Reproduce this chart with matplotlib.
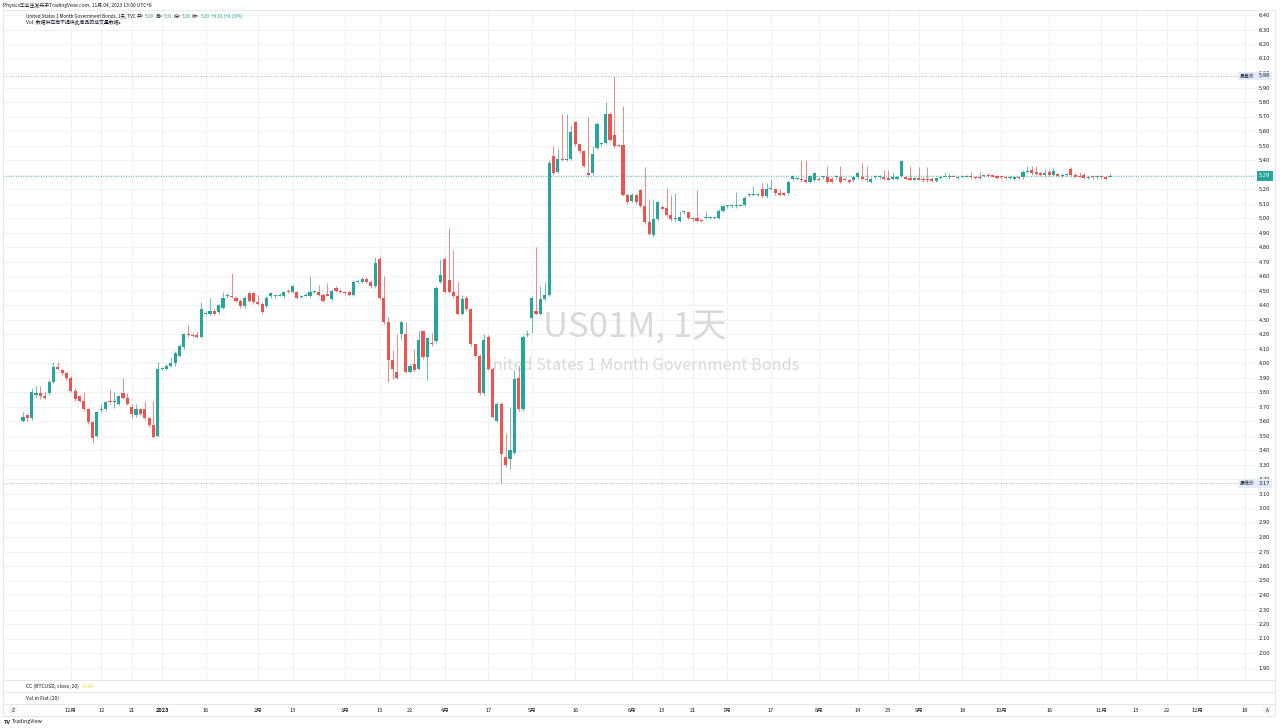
import matplotlib

matplotlib.use("Agg")
import matplotlib.pyplot as plt
import numpy as np
from matplotlib.lines import Line2D

plt.rcParams["font.family"] = ["Noto Sans CJK SC", "DejaVu Sans"]

W, H = 1280, 728
GREEN = "#26a69a"
RED = "#ef5350"
TEXT = "#131722"
BORDER = "#e0e3eb"
GRID = "#f0f2f5"

# daily candles, US01M, mid Nov 2022 -> 3 Nov 2023
OPEN = [
    3.60, 3.64, 3.62, 3.78, 3.79, 3.77, 3.79, 3.87, 3.97, 3.95,
    3.93, 3.90, 3.81, 3.77, 3.74, 3.68, 3.59, 3.50, 3.675, 3.68,
    3.74, 3.73, 3.72, 3.79, 3.76, 3.70, 3.64, 3.68, 3.68, 3.62,
    3.57, 3.50, 3.96, 3.96, 3.98, 4.00, 4.05, 4.11, 4.20, 4.19,
    4.19, 4.18, 4.34, 4.34, 4.36, 4.35, 4.38, 4.46, 4.465, 4.45,
    4.43, 4.39, 4.48, 4.48, 4.42, 4.41, 4.39, 4.46, 4.46, 4.465,
    4.46, 4.50, 4.49, 4.49, 4.455, 4.465, 4.46, 4.49, 4.49, 4.47,
    4.475, 4.44, 4.52, 4.50, 4.49, 4.49, 4.47, 4.56, 4.56, 4.58,
    4.56, 4.53, 4.72, 4.45, 4.28, 4.02, 3.94, 4.20, 4.20, 3.94,
    3.99, 3.96, 4.22, 4.04, 4.14, 4.15, 4.56, 4.72, 4.57, 4.49,
    4.46, 4.34, 4.45, 4.37, 4.13, 4.05, 3.79, 4.18, 3.96, 3.60,
    3.72, 3.35, 3.34, 3.38, 3.90, 3.68, 4.19, 4.31, 4.36, 4.34,
    4.44, 4.47, 5.43, 5.32, 5.41, 5.40, 5.41, 5.66, 5.51, 5.46,
    5.31, 5.31, 5.48, 5.51, 5.52, 5.72, 5.57, 5.50, 5.50, 5.16,
    5.12, 5.16, 5.19, 5.08, 4.97, 4.88, 4.99, 5.075, 5.07, 5.02,
    4.99, 4.98, 5.04, 5.04, 5.00, 5.00, 4.985, 5.00, 5.00, 5.00,
    5.00, 5.05, 5.08, 5.08, 5.08, 5.085, 5.09, 5.16, 5.16, 5.16,
    5.20, 5.15, 5.20, 5.20, 5.17, 5.17, 5.17, 5.27, 5.27, 5.27,
    5.26, 5.25, 5.26, 5.27, 5.28, 5.28, 5.27, 5.28, 5.28, 5.27,
    5.26, 5.26, 5.28, 5.28, 5.27, 5.25, 5.28, 5.28, 5.28, 5.275,
    5.27, 5.27, 5.29, 5.28, 5.275, 5.265, 5.275, 5.27, 5.27, 5.27,
    5.255, 5.275, 5.285, 5.28, 5.29, 5.275, 5.285, 5.285, 5.29, 5.285,
    5.285, 5.29, 5.30, 5.295, 5.29, 5.285, 5.285, 5.275, 5.27, 5.285,
    5.28, 5.315, 5.33, 5.32, 5.31, 5.30, 5.32, 5.30, 5.305, 5.29,
    5.295, 5.34, 5.30, 5.29, 5.30, 5.275, 5.285, 5.28, 5.29, 5.28,
    5.28,
]
HIGH = [
    3.66, 3.65, 3.83, 3.84, 3.84, 3.80, 3.88, 4.01, 4.01, 3.96,
    3.94, 3.91, 3.83, 3.78, 3.80, 3.69, 3.60, 3.67, 3.72, 3.74,
    3.82, 3.80, 3.78, 3.90, 3.79, 3.72, 3.72, 3.69, 3.74, 3.63,
    3.74, 4.01, 3.97, 3.99, 4.04, 4.08, 4.13, 4.21, 4.26, 4.21,
    4.22, 4.42, 4.36, 4.45, 4.37, 4.41, 4.49, 4.48, 4.62, 4.46,
    4.44, 4.46, 4.49, 4.49, 4.47, 4.42, 4.46, 4.49, 4.47, 4.48,
    4.50, 4.51, 4.54, 4.50, 4.47, 4.48, 4.60, 4.50, 4.54, 4.48,
    4.55, 4.51, 4.53, 4.51, 4.50, 4.50, 4.57, 4.57, 4.59, 4.59,
    4.57, 4.73, 4.73, 4.60, 4.32, 4.09, 4.20, 4.29, 4.28, 3.99,
    4.10, 4.22, 4.23, 4.18, 4.21, 4.53, 4.72, 4.73, 4.93, 4.78,
    4.56, 4.47, 4.46, 4.38, 4.14, 4.06, 4.20, 4.19, 3.97, 3.73,
    3.73, 3.52, 3.70, 3.95, 3.98, 4.19, 4.23, 4.46, 4.80, 4.53,
    4.56, 5.40, 5.50, 5.48, 5.72, 5.72, 5.64, 5.67, 5.52, 5.47,
    5.70, 5.50, 5.66, 5.52, 5.80, 5.73, 5.98, 5.51, 5.77, 5.17,
    5.17, 5.17, 5.20, 5.35, 5.13, 5.13, 5.12, 5.09, 5.21, 5.16,
    5.17, 5.05, 5.05, 5.05, 5.01, 5.19, 4.99, 5.05, 5.01, 5.01,
    5.06, 5.09, 5.09, 5.09, 5.18, 5.10, 5.15, 5.17, 5.22, 5.17,
    5.24, 5.24, 5.27, 5.21, 5.20, 5.18, 5.26, 5.30, 5.28, 5.40,
    5.40, 5.30, 5.32, 5.28, 5.29, 5.36, 5.28, 5.30, 5.36, 5.28,
    5.27, 5.29, 5.32, 5.38, 5.36, 5.28, 5.30, 5.30, 5.33, 5.33,
    5.32, 5.29, 5.40, 5.29, 5.36, 5.28, 5.35, 5.28, 5.35, 5.28,
    5.28, 5.29, 5.32, 5.31, 5.30, 5.29, 5.30, 5.30, 5.32, 5.29,
    5.32, 5.30, 5.31, 5.30, 5.30, 5.29, 5.29, 5.29, 5.29, 5.29,
    5.33, 5.36, 5.36, 5.36, 5.32, 5.34, 5.33, 5.35, 5.31, 5.31,
    5.31, 5.35, 5.31, 5.32, 5.31, 5.29, 5.29, 5.29, 5.30, 5.29,
    5.31,
]
LOW = [
    3.59, 3.60, 3.61, 3.76, 3.75, 3.75, 3.78, 3.86, 3.95, 3.92,
    3.88, 3.80, 3.74, 3.73, 3.67, 3.58, 3.45, 3.49, 3.66, 3.67,
    3.72, 3.69, 3.71, 3.75, 3.71, 3.62, 3.63, 3.64, 3.61, 3.56,
    3.48, 3.49, 3.95, 3.95, 3.97, 3.98, 4.04, 4.10, 4.18, 4.18,
    4.17, 4.17, 4.33, 4.33, 4.33, 4.34, 4.37, 4.45, 4.45, 4.42,
    4.38, 4.38, 4.42, 4.41, 4.40, 4.34, 4.38, 4.45, 4.45, 4.46,
    4.45, 4.48, 4.48, 4.44, 4.45, 4.46, 4.45, 4.48, 4.46, 4.42,
    4.46, 4.43, 4.49, 4.48, 4.47, 4.46, 4.46, 4.55, 4.55, 4.55,
    4.52, 4.52, 4.44, 4.27, 3.87, 3.89, 3.89, 4.16, 3.93, 3.93,
    3.94, 3.95, 4.03, 3.88, 4.12, 4.14, 4.55, 4.48, 4.48, 4.45,
    4.33, 4.33, 4.36, 4.12, 4.04, 3.78, 3.78, 3.95, 3.62, 3.59,
    3.17, 3.28, 3.27, 3.37, 3.67, 3.67, 4.18, 4.21, 4.33, 4.33,
    4.43, 4.46, 5.30, 5.31, 5.39, 5.39, 5.40, 5.50, 5.45, 5.35,
    5.28, 5.30, 5.47, 5.50, 5.51, 5.53, 5.48, 5.49, 5.15, 5.10,
    5.11, 5.10, 5.07, 4.96, 4.88, 4.87, 4.98, 5.06, 5.01, 4.98,
    4.97, 4.97, 5.03, 4.99, 4.98, 4.97, 4.97, 4.99, 4.99, 4.99,
    4.99, 5.04, 5.07, 5.07, 5.07, 5.08, 5.08, 5.15, 5.15, 5.15,
    5.14, 5.14, 5.19, 5.16, 5.15, 5.15, 5.16, 5.26, 5.26, 5.25,
    5.24, 5.24, 5.25, 5.26, 5.27, 5.24, 5.24, 5.27, 5.24, 5.26,
    5.24, 5.25, 5.27, 5.26, 5.25, 5.24, 5.27, 5.27, 5.26, 5.26,
    5.26, 5.26, 5.28, 5.26, 5.26, 5.26, 5.26, 5.25, 5.25, 5.25,
    5.25, 5.27, 5.28, 5.27, 5.28, 5.27, 5.28, 5.28, 5.27, 5.27,
    5.27, 5.28, 5.28, 5.28, 5.27, 5.27, 5.27, 5.27, 5.26, 5.27,
    5.27, 5.31, 5.30, 5.30, 5.29, 5.29, 5.29, 5.29, 5.28, 5.28,
    5.29, 5.29, 5.28, 5.28, 5.27, 5.27, 5.27, 5.27, 5.27, 5.26,
    5.28,
]
CLOSE = [
    3.63, 3.62, 3.80, 3.79, 3.77, 3.76, 3.87, 3.97, 3.96, 3.93,
    3.90, 3.81, 3.75, 3.74, 3.68, 3.59, 3.48, 3.66, 3.685, 3.73,
    3.73, 3.735, 3.77, 3.76, 3.72, 3.65, 3.68, 3.65, 3.62, 3.57,
    3.49, 3.96, 3.965, 3.98, 4.00, 4.07, 4.12, 4.20, 4.195, 4.185,
    4.18, 4.37, 4.345, 4.36, 4.34, 4.40, 4.45, 4.47, 4.455, 4.43,
    4.39, 4.45, 4.43, 4.42, 4.41, 4.35, 4.45, 4.48, 4.465, 4.47,
    4.49, 4.49, 4.53, 4.45, 4.46, 4.47, 4.49, 4.495, 4.47, 4.43,
    4.465, 4.50, 4.50, 4.49, 4.48, 4.47, 4.56, 4.565, 4.58, 4.56,
    4.53, 4.69, 4.45, 4.28, 4.02, 3.96, 3.90, 4.28, 3.94, 3.98,
    3.95, 4.16, 4.04, 4.17, 4.13, 4.52, 4.61, 4.49, 4.49, 4.46,
    4.34, 4.44, 4.37, 4.13, 4.05, 3.79, 4.16, 3.96, 3.63, 3.72,
    3.37, 3.30, 3.40, 3.89, 3.68, 4.18, 4.195, 4.45, 4.34, 4.44,
    4.47, 5.38, 5.31, 5.41, 5.40, 5.405, 5.59, 5.51, 5.46, 5.36,
    5.30, 5.44, 5.65, 5.515, 5.72, 5.54, 5.50, 5.495, 5.16, 5.11,
    5.16, 5.11, 5.08, 4.97, 4.89, 4.99, 5.11, 5.065, 5.02, 4.99,
    4.995, 5.01, 5.045, 5.00, 4.99, 4.98, 4.98, 5.005, 5.005, 5.005,
    5.05, 5.08, 5.085, 5.085, 5.085, 5.09, 5.14, 5.165, 5.165, 5.165,
    5.15, 5.20, 5.21, 5.17, 5.16, 5.16, 5.25, 5.29, 5.275, 5.26,
    5.25, 5.29, 5.31, 5.265, 5.285, 5.25, 5.25, 5.29, 5.25, 5.265,
    5.25, 5.28, 5.31, 5.27, 5.26, 5.27, 5.29, 5.29, 5.27, 5.265,
    5.28, 5.28, 5.39, 5.27, 5.265, 5.275, 5.265, 5.26, 5.26, 5.255,
    5.275, 5.285, 5.29, 5.29, 5.285, 5.285, 5.29, 5.29, 5.28, 5.275,
    5.275, 5.295, 5.29, 5.285, 5.275, 5.28, 5.275, 5.285, 5.28, 5.275,
    5.32, 5.325, 5.31, 5.305, 5.30, 5.31, 5.30, 5.325, 5.29, 5.30,
    5.305, 5.30, 5.285, 5.285, 5.275, 5.285, 5.28, 5.285, 5.28, 5.27,
    5.29,
]

# date axis (bar index -> label)
XTICK_POS = [11, 18, 25, 32, 42, 54, 62, 74, 82, 89, 97, 107, 117, 127, 140, 147,
             154, 162, 172, 183, 192, 199, 206, 216, 225, 236, 248, 256, 263, 270, 281]
XTICK_LABELS = ["12月", "12", "21", "2023", "16", "2月", "13", "3月", "13", "22", "4月",
                "17", "5月", "16", "6月", "13", "21", "7月", "17", "8月", "14", "23", "9月",
                "18", "10月", "16", "11月", "13", "22", "12月", "18"]

SYMBOL = "US01M"
TITLE = "United States 1 Month Government Bonds"
LEGEND_VALUES = [("开", "5.28"), ("高", "5.31"), ("低", "5.28"), ("收", "5.29")]
CHANGE = "+0.01 (+0.19%)"
CC_VALUE = "−0.84"


def fx(x):
    return x / W


def fy(y):
    return 1 - y / H


# pixel geometry of the main pane
PANE_L, PANE_R, PANE_T, PANE_B = 3, 1256, 10, 680
X0, DX = 23, 4.348          # pixel of bar 0, pixels per bar
PY0, PPU = 15, 145.0        # pixel of price 6.40, pixels per unit


def px_to_price(y):
    return 6.40 - (y - PY0) / PPU


def px_to_bar(x):
    return (x - X0) / DX


fig = plt.figure(figsize=(W / 100, H / 100), dpi=100)
renderer = fig.canvas.get_renderer()
ax = fig.add_axes([fx(PANE_L), fy(PANE_B), (PANE_R - PANE_L) / W, (PANE_B - PANE_T) / H])
ax.set_xlim(px_to_bar(PANE_L), px_to_bar(PANE_R))
ax.set_ylim(px_to_price(PANE_B), px_to_price(PANE_T))

o = np.array(OPEN)
h = np.array(HIGH)
lo = np.array(LOW)
c = np.array(CLOSE)
xs = np.arange(len(o))
cols = np.where(c >= o, GREEN, RED)

# wicks then bodies
ax.vlines(xs, lo, h, colors=cols, lw=0.7, alpha=0.7, zorder=2)
body_h = np.maximum(np.abs(c - o), 0.007)
ax.bar(xs, body_h, bottom=np.minimum(o, c), width=0.72, color=cols, lw=0, zorder=3)

# grid and axes
price_ticks = [round(1.9 + 0.1 * k, 2) for k in range(46)]
price_labels = ["" if abs(p - 5.30) < 1e-6 else f"{p:.2f}" for p in price_ticks]
ax.set_yticks(price_ticks, price_labels)
ax.yaxis.tick_right()
ax.set_xticks(XTICK_POS, XTICK_LABELS)
ax.grid(True, color=GRID, lw=0.8, zorder=0)
ax.set_axisbelow(True)
ax.tick_params(axis="y", length=0, pad=1.8, labelsize=3.7, labelcolor=TEXT)
ax.tick_params(axis="x", length=0, pad=19.8, labelsize=4, labelcolor=TEXT)
for lab in ax.get_yticklabels():
    lab.set_family("DejaVu Sans")
for lab in ax.get_xticklabels():
    if lab.get_text() == "2023":
        lab.set_fontweight("bold")
for sp in ax.spines.values():
    sp.set_visible(False)

# highest / lowest / last price lines
hi, lo_min, last = max(HIGH), min(LOW), CLOSE[-1]
ax.axhline(hi, color="#9598a1", lw=0.6, ls=(0, (1, 2)), zorder=1)
ax.axhline(lo_min, color="#9598a1", lw=0.6, ls=(0, (1, 2)), zorder=1)
ax.axhline(last, color=GREEN, lw=0.6, ls=(0, (1, 2)), zorder=1)

ytr = ax.get_yaxis_transform()
lab_x = (1264.5 - PANE_L) / (PANE_R - PANE_L)
tag_x = (1247.5 - PANE_L) / (PANE_R - PANE_L)
box_blue = dict(boxstyle="square,pad=0.35", fc="#e4ecfb", ec="none")
for val, tag in [(hi, "最高价"), (lo_min, "最低价")]:
    ax.text(lab_x, val, f"{val:.2f}", transform=ytr, ha="center", va="center",
            fontsize=3.7, family="DejaVu Sans", color=TEXT, bbox=box_blue,
            clip_on=False, zorder=6)
    ax.text(tag_x, val, tag, transform=ytr, ha="center", va="center",
            fontsize=3.6, color=TEXT, bbox=box_blue, clip_on=False, zorder=6)
ax.text(lab_x, last, f"{last:.2f}", transform=ytr, ha="center", va="center",
        fontsize=3.7, family="DejaVu Sans", color="white",
        bbox=dict(boxstyle="square,pad=0.45", fc=GREEN, ec="none"), clip_on=False, zorder=6)

# watermark
ax.text(fx(635), fy(328), f"{SYMBOL}, 1天", transform=fig.transFigure, ha="center",
        va="center", fontsize=25, color="#d9d9d9", zorder=1)
ax.text(fx(640), fy(366), TITLE, transform=fig.transFigure,
        ha="center", va="center", fontsize=11.7, color="#d9d9d9", zorder=1)


def text_row(x, y, parts, size=3.4, gap=1.5):
    """Lay out coloured pieces of text one after another, starting at pixel x."""
    for s, col in parts:
        t = fig.text(fx(x), fy(y), s, fontsize=size, color=col, va="center")
        x += t.get_window_extent(renderer).width + gap


# header
text_row(3, 5, [("Physics毕业生发布于TradingView.com, 11月 04, 2023 13:00 UTC+8", TEXT)], size=3.5)
parts = [(f"{TITLE}, 1天, TVC", TEXT)]
for key, val in LEGEND_VALUES:
    parts += [(key + "=", TEXT), (val, GREEN)]
parts.append((CHANGE, GREEN))
text_row(26, 16, parts, size=3.3, gap=1.2)
text_row(26, 22, [("Vol: 数据供应商不提供此商品的成交量数据。", TEXT)], size=3.5)

# lower panes
text_row(26, 686, [("CC (BTCUSD, close, 20)", TEXT), (CC_VALUE, "#f5d547")], size=3.6, gap=3)
text_row(26, 698, [("Vol in Fiat (20)", TEXT)], size=3.6)

# frame lines
for yy in [PANE_T, 680, 692, 704, 716]:
    fig.add_artist(Line2D([fx(PANE_L), fx(1275)], [fy(yy), fy(yy)], color=BORDER, lw=0.6))
for xx in [PANE_L, 1275]:
    fig.add_artist(Line2D([fx(xx), fx(xx)], [fy(PANE_T), fy(716)], color=BORDER, lw=0.6))

# small buttons on the time axis
for xx, s in [(13, "Z"), (1267, "A")]:
    fig.text(fx(xx), fy(710), s, fontsize=3.5, color=TEXT, ha="center", va="center",
             bbox=dict(boxstyle="circle,pad=0.3", fc="#eef0f4", ec="none"))

# logo
fig.text(fx(4), fy(722), "TV", fontsize=4, fontweight="bold", color=TEXT, va="center")
fig.text(fx(12), fy(722), "TradingView", fontsize=3.8, color=TEXT, va="center")

fig.savefig("out.png", dpi=100, facecolor="white")
